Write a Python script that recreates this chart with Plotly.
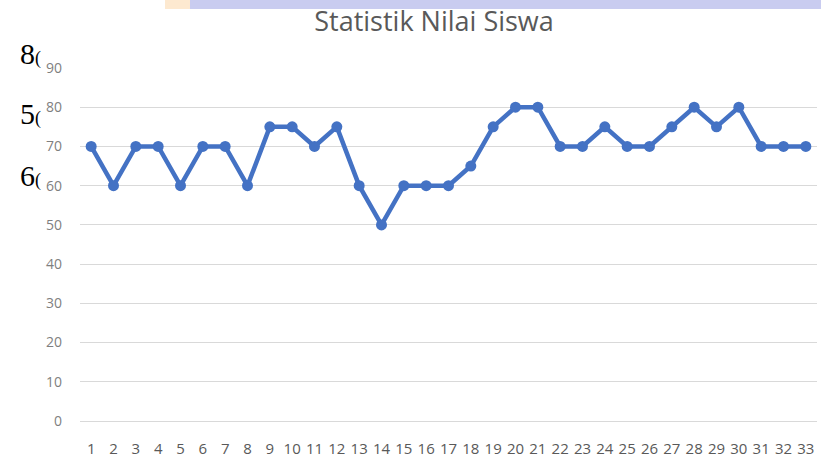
import plotly.graph_objects as go

siswa = [str(i) for i in range(1, 34)]
nilai = [70, 60, 70, 70, 60, 70, 70, 60, 75, 75, 70, 75, 60, 50, 60, 60, 60, 65,
         75, 80, 80, 70, 70, 75, 70, 70, 75, 80, 75, 80, 70, 70, 70]
y_ticks = [0, 10, 20, 30, 40, 50, 60, 70, 80, 90]
title_text = "Statistik Nilai Siswa"
overlay_digits = ["8", "5", "6"]

fig = go.Figure()
fig.add_trace(go.Scatter(
    x=siswa, y=nilai, mode="lines+markers",
    line=dict(color="#4472C4", width=4.5),
    marker=dict(color="#4472C4", size=11),
    showlegend=False, hoverinfo="x+y",
))

fig.update_layout(
    width=821, height=473,
    margin=dict(l=80, r=4, t=68, b=52),
    paper_bgcolor="white", plot_bgcolor="white",
    font=dict(family="Open Sans", color="#595959"),
    title=dict(text=title_text, x=434/821, xanchor="center", y=1 - 22/473,
               yanchor="middle", xref="container",
               yref="container", font=dict(size=27, color="#595959", family="Open Sans")),
    xaxis=dict(type="category", range=[-0.5, 32.5], showgrid=False, showline=False,
               ticks="", tickfont=dict(size=15, color="#595959"), ticklabelstandoff=17,
               fixedrange=True),
    yaxis=dict(range=[0, 90], tickvals=y_ticks, showgrid=True, gridcolor="#d9d9d9",
               gridwidth=1, zeroline=True, zerolinecolor="#d9d9d9", zerolinewidth=1,
               showline=False, ticks="", tickfont=dict(size=14, color="#7f7f7f"),
               ticklabelstandoff=17, fixedrange=True),
    shapes=[
        dict(type="rect", xref="paper", yref="paper", x0=(165 - 80)/737, x1=(190 - 80)/737,
             y0=1 + (68 - 9) / 353, y1=1 + 68 / 353, line=dict(width=0),
             fillcolor="#fde9d0", layer="below"),
        dict(type="rect", xref="paper", yref="paper", x0=(190 - 80)/737, x1=1 + 4/737,
             y0=1 + (68 - 9) / 353, y1=1 + 68 / 353, line=dict(width=0),
             fillcolor="#c9ccf0", layer="below"),
    ],
)

# overlaid serif digits at the left edge (artifacts of the source document)
for d, yc in zip(overlay_digits, [53, 113, 175]):
    fig.add_annotation(text=d + "<span style='font-size:18px'>(</span>",
                       xref="paper", yref="paper",
                       x=-62/737, y=1 - (yc - 68) / 353, xanchor="left", yanchor="middle",
                       showarrow=False,
                       font=dict(family="Liberation Serif", size=30, color="black"))

fig.write_html("out.html", config={"displayModeBar": False},
               post_script="document.body.style.margin='0';")
